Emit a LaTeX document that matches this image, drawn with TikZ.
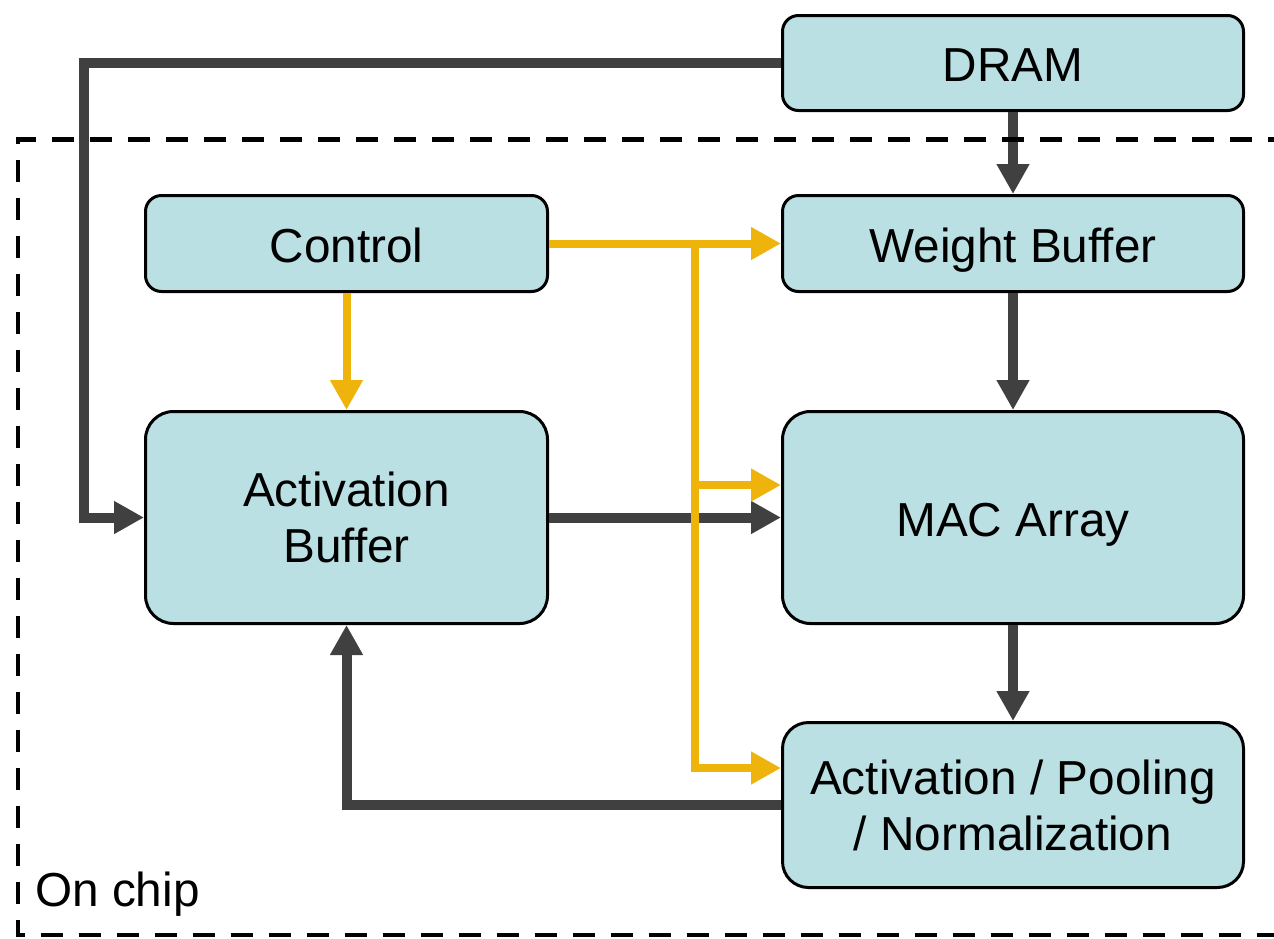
\documentclass[tikz,border=0pt]{standalone}
\usepackage{fontspec}
\setmainfont{Liberation Sans}
\usetikzlibrary{arrows.meta}
\definecolor{boxfill}{RGB}{186,224,227}
\definecolor{datagrey}{RGB}{64,64,64}
\definecolor{ctrlyellow}{RGB}{238,180,12}
\begin{document}
\begin{tikzpicture}[x=1pt,y=-1pt,
  block/.style={draw=black, line width=3pt, fill=boxfill, rounded corners=#1,
    align=center, inner sep=0pt,
    font=\fontsize{47.7}{56}\selectfont},
  block/.default=16pt,
  oneline/.style={text height=43pt, text depth=6pt},
  data/.style={draw=datagrey, line width=10pt, line join=miter,
    -{Triangle[length=30pt,width=31pt]}},
  ctrl/.style={draw=ctrlyellow, line width=8pt, line join=miter,
    -{Triangle[length=30pt,width=31pt]}},
  chip/.style={draw=black, line width=4.5pt, dash pattern=on 22pt off 16pt}
]
\useasboundingbox (0,0) rectangle (1274,938);

% blocks
\node[block, oneline, minimum width=461pt, minimum height=95pt] (dram) at (1013,63) {DRAM};
\node[block, oneline, minimum width=402pt, minimum height=96pt] (ctl) at (346.5,243.5) {Control};
\node[block, oneline, minimum width=461pt, minimum height=96pt] (wbuf) at (1013,243.5) {Weight Buffer};
\node[block=28pt, minimum width=402pt, minimum height=212pt] (abuf) at (346.5,517.5) {Activation\\Buffer};
\node[block=28pt, oneline, minimum width=461pt, minimum height=212pt] (mac) at (1013,517.5) {MAC Array};
\node[block=26pt, minimum width=461pt, minimum height=165pt] (post) at (1013,805) {Activation / Pooling\\/ Normalization};

% helper points for the routed wires
\coordinate (lx) at (84,0);
\coordinate (split) at (695,243.5);
\coordinate (macin) at ([yshift=32.5pt]mac.west);
\coordinate (postin) at ([yshift=37pt]post.west);

% data paths
\draw[data] (dram.south) -- (wbuf.north);
\draw[data] (wbuf.south) -- (mac.north);
\draw[data] (mac.south) -- (post.north);
\draw[data] (abuf.east) -- (mac.west);
\draw[data] (dram.west) -- (dram.west -| lx) |- (abuf.west);
\draw[data] (post.west) -| (abuf.south);

% control paths
\draw[ctrl] (ctl.east) -- (wbuf.west);
\draw[ctrl] (ctl.south) -- (abuf.north);
\draw[ctrl] (split) |- (postin);
\draw[ctrl] (split |- macin) -- (macin);

% on-chip boundary
\draw[chip] (1290,139.5) -- (18,139.5) -- (18,935) -- (1290,935);
\node[anchor=base west, inner sep=0pt, font=\fontsize{47.7}{56}\selectfont] (onchip) at (35,906) {On chip};
\end{tikzpicture}
\end{document}
